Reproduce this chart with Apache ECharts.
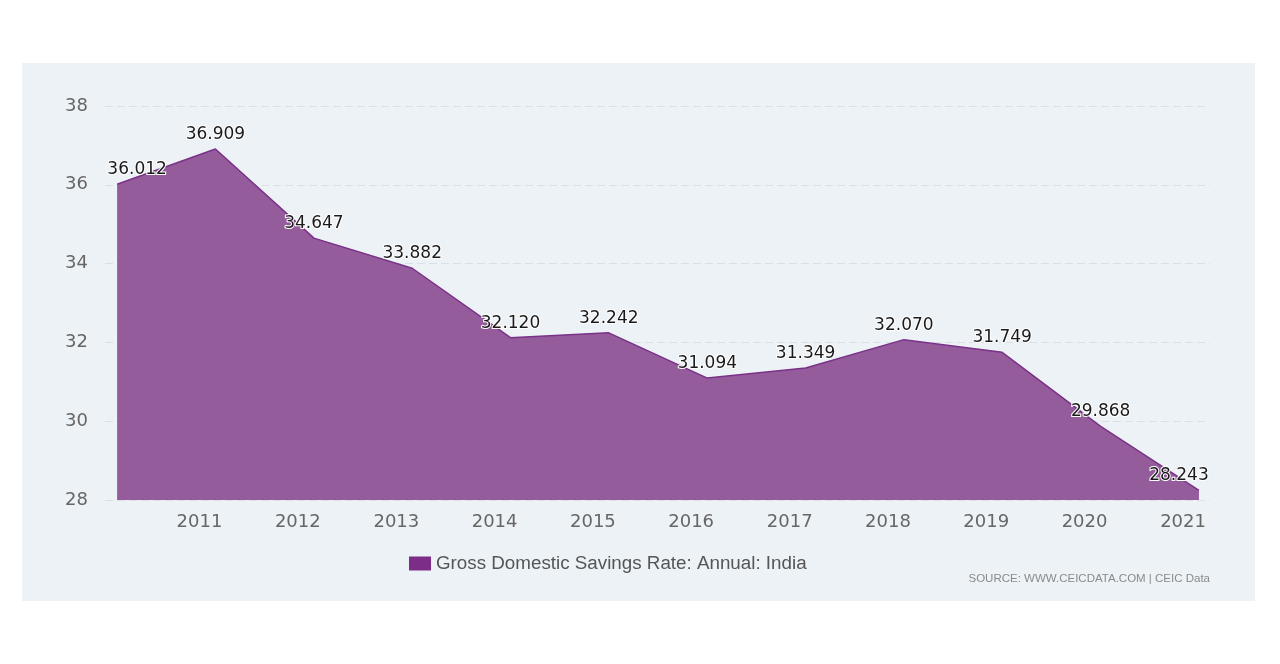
<!DOCTYPE html>
<html><head><meta charset="utf-8">
<script src="https://cdn.jsdelivr.net/npm/echarts@6/dist/echarts.min.js"></script>
<style>html,body{margin:0;padding:0;background:#fff}#c{width:1280px;height:664px}</style>
</head><body><div id="c"></div>
<script>
const dates = ['2010-03-01','2011-03-01','2012-03-01','2013-03-01','2014-03-01','2015-03-01','2016-03-01','2017-03-01','2018-03-01','2019-03-01','2020-03-01','2021-03-01'];
const values = [36.012, 36.909, 34.647, 33.882, 32.120, 32.242, 31.094, 31.349, 32.070, 31.749, 29.868, 28.243];
const yTicks = [28, 30, 32, 34, 36, 38];
const seriesName = 'Gross Domestic Savings Rate: Annual: India';
const sourceText = 'SOURCE: WWW.CEICDATA.COM | CEIC Data';

const labelOffsets = {0: [20, 0], 11: [-20, 0]};
const data = dates.map((d, i) => {
  const item = { value: [d, values[i]] };
  if (labelOffsets[i]) item.label = { offset: labelOffsets[i] };
  return item;
});

const chart = echarts.init(document.getElementById('c'), null, {renderer: 'canvas'});
chart.setOption({
  backgroundColor: '#ffffff',
  animation: false,
  graphic: [{
    type: 'rect', z: -10, silent: true,
    shape: { x: 22, y: 63, width: 1233, height: 538 },
    style: { fill: '#edf2f6' }
  }, {
    type: 'text', right: 70, top: 573,
    style: { text: sourceText, fill: '#8a8a8a', font: '11.5px "Liberation Sans Narrow", "Liberation Sans", sans-serif' }
  }],
  grid: { left: 105, right: 70, top: 106, bottom: 164 },
  legend: {
    data: [seriesName],
    left: 404, top: 549,
    itemWidth: 22, itemHeight: 14, itemGap: 6,
    icon: 'rect',
    textStyle: { color: '#555', fontSize: 18.8, fontFamily: 'Liberation Sans' }
  },
  xAxis: {
    type: 'time',
    min: '2010-01-15', max: '2021-04-11',
    splitNumber: 11,
    axisLine: { show: false },
    axisTick: { show: false },
    splitLine: { show: false },
    axisLabel: {
      color: '#666', fontSize: 18, fontFamily: 'DejaVu Sans', margin: 13,
      showMinLabel: false, showMaxLabel: false,
      formatter: function (v) {
        const d = new Date(v);
        return (d.getMonth() === 0 && d.getDate() === 1) ? String(d.getFullYear()) : '';
      }
    }
  },
  yAxis: {
    type: 'value',
    min: yTicks[0], max: yTicks[yTicks.length - 1], interval: 2,
    axisLine: { show: false },
    axisTick: { show: false },
    axisLabel: { color: '#666', fontSize: 18, fontFamily: 'DejaVu Sans', margin: 17 },
    splitLine: { lineStyle: { color: '#dbe0e6', type: [8, 4], width: 1 } }
  },
  series: [{
    name: seriesName,
    type: 'line',
    data: data,
    symbol: 'circle',
    symbolSize: 0,
    showSymbol: true,
    color: '#7b2d87',
    lineStyle: { color: '#7a3188', width: 1.5 },
    areaStyle: { color: '#955c9c', opacity: 1 },
    label: {
      show: true, position: 'top', distance: 6,
      color: '#1a1a1a', fontSize: 17, fontFamily: 'DejaVu Sans',
      textBorderColor: '#fff', textBorderWidth: 2,
      formatter: p => p.value[1].toFixed(3)
    }
  }]
});
</script></body></html>
